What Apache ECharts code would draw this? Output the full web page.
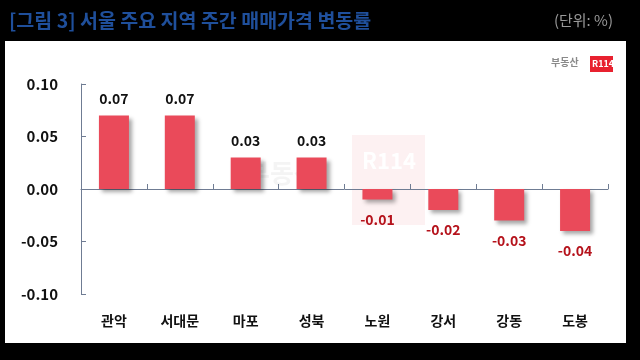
<!DOCTYPE html>
<html>
<head>
<meta charset="utf-8">
<script src="https://cdn.jsdelivr.net/npm/echarts@6/dist/echarts.min.js"></script>
<style>
  html, body { margin: 0; padding: 0; background: #000; }
  #chart { width: 640px; height: 360px; }
</style>
</head>
<body>
<div id="chart"></div>
<script>
const categories = ['관악', '서대문', '마포', '성북', '노원', '강서', '강동', '도봉'];
const values = [0.07, 0.07, 0.03, 0.03, -0.01, -0.02, -0.03, -0.04];
const yTicks = [-0.10, -0.05, 0.00, 0.05, 0.10];

const FONT = '"Noto Sans CJK KR", "Noto Sans", sans-serif';
const chart = echarts.init(document.getElementById('chart'));

const option = {
  backgroundColor: '#000',
  animation: false,
  title: [
    {
      text: '[그림 3] 서울 주요 지역 주간 매매가격 변동률',
      left: 4, top: 6,
      textStyle: { color: '#1f4f9b', fontSize: 19.5, fontWeight: 'bold', fontFamily: FONT }
    },
    {
      text: '(단위: %)',
      right: 22, top: 8,
      textStyle: { color: '#9a9a9a', fontSize: 15, fontWeight: 'normal', fontFamily: FONT }
    }
  ],
  graphic: [
    { type: 'rect', z: -10, shape: { x: 5, y: 41, width: 621, height: 302 }, style: { fill: '#ffffff' } },
    { type: 'rect', z: -5, shape: { x: 352, y: 135, width: 73, height: 90 }, style: { fill: '#fdf1f2' } },
    { type: 'text', z: -4, left: 362, top: 150, style: { text: 'R114', fill: '#ffffff', font: 'bold 22px ' + FONT } },
    { type: 'text', z: -4, left: 246, top: 160, style: { text: '부동산', fill: 'rgba(180,180,180,0.15)', font: 'bold 26px ' + FONT } },
    { type: 'text', left: 551, top: 57, style: { text: '부동산', fill: '#8a8a8a', font: 'bold 10px ' + FONT } },
    { type: 'rect', shape: { x: 590, y: 56, width: 23, height: 16 }, style: { fill: '#e8212f' } },
    { type: 'text', left: 592, top: 59, style: { text: 'R114', fill: '#ffffff', font: 'bold 9px ' + FONT } }
  ],
  grid: { left: 81, right: 32, top: 84, bottom: 66, containLabel: false },
  xAxis: [
    {
      type: 'category',
      data: categories,
      axisLine: { show: true, onZero: true, lineStyle: { color: '#6f7c93', width: 1 } },
      axisTick: { show: true, inside: true, length: 5, lineStyle: { color: '#6f7c93' } },
      axisLabel: { show: false }
    },
    {
      type: 'category',
      data: categories,
      position: 'bottom',
      axisLine: { show: false, onZero: false },
      axisTick: { show: false },
      axisLabel: { show: true, margin: 20, color: '#111', fontSize: 14, fontWeight: 'bold', fontFamily: FONT }
    }
  ],
  yAxis: {
    type: 'value',
    min: -0.10, max: 0.10, interval: 0.05,
    splitLine: { show: false },
    axisLine: { show: true, lineStyle: { color: '#6f7c93', width: 1 } },
    axisTick: { show: true, inside: true, length: 5, lineStyle: { color: '#6f7c93' } },
    axisLabel: {
      margin: 23, color: '#111', fontSize: 15, fontWeight: 'bold', fontFamily: FONT,
      formatter: v => v.toFixed(2)
    }
  },
  series: [{
    type: 'bar',
    xAxisIndex: 0,
    data: values.map(v => ({
      value: v,
      label: v >= 0
        ? { position: 'top', distance: 10, color: '#111', fontWeight: 'bold', fontSize: 14 }
        : { position: 'bottom', distance: 13, color: '#b5121b', fontWeight: 'bold', fontSize: 14 }
    })),
    barWidth: 30,
    itemStyle: {
      color: '#ea4a5a',
      shadowColor: 'rgba(0,0,0,0.35)', shadowBlur: 4, shadowOffsetX: 3, shadowOffsetY: 3
    },
    label: {
      show: true, fontFamily: FONT,
      formatter: p => p.value.toFixed(2)
    }
  }]
};
chart.setOption(option);
</script>
</body>
</html>
